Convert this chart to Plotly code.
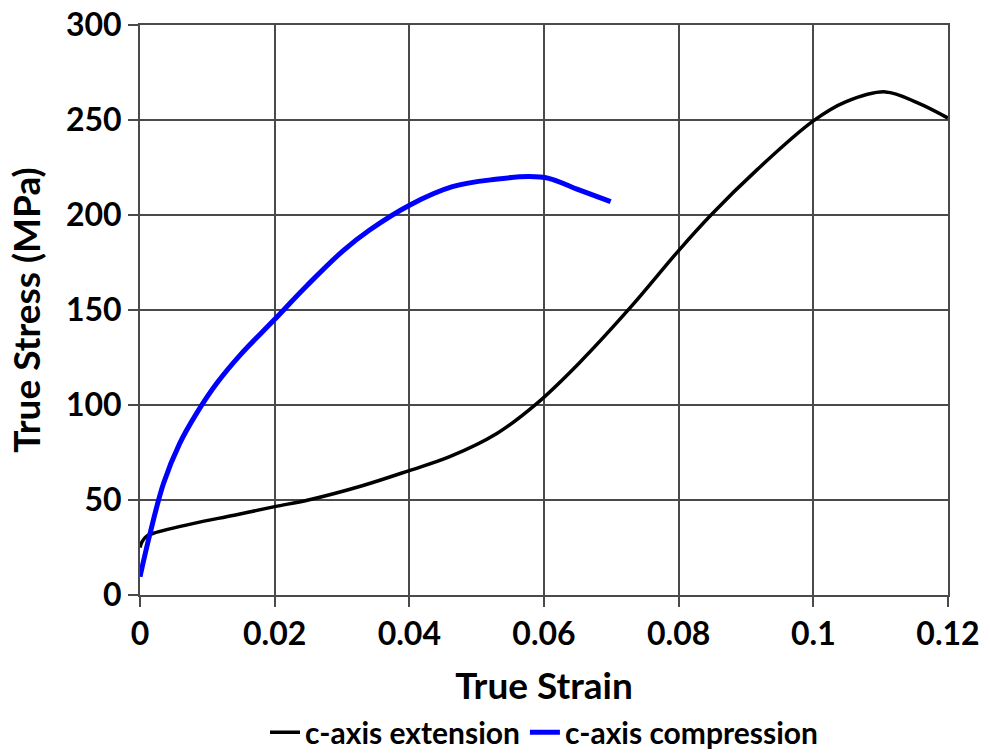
import plotly.graph_objects as go

# c-axis extension: true strain vs true stress (MPa)
ext_strain = [0.0, 0.0003, 0.001, 0.002, 0.008, 0.014, 0.02, 0.025, 0.033, 0.04,
              0.046, 0.053, 0.059, 0.0652, 0.073, 0.08, 0.0848, 0.0917,
              0.1, 0.1048, 0.1107, 0.1155, 0.12]
ext_stress = [25, 28, 31, 32.5, 37.7, 42, 46.5, 50, 57.5, 65.5,
              72.8, 85, 101, 122, 152, 181.3, 200, 224,
              249.5, 259.5, 264.8, 259, 251]

# c-axis compression: true strain vs true stress (MPa)
comp_strain = [0.0, 0.0015, 0.0035, 0.0059, 0.0084, 0.0114, 0.0148, 0.0199,
               0.0247, 0.0301, 0.0341, 0.0401, 0.0464, 0.0528, 0.0578, 0.0607,
               0.0652, 0.0699]
comp_stress = [9.6, 32.5, 58.8, 79.8, 95.6, 111.4, 126, 144.7,
               162.5, 181, 192.1, 205.3, 214.9, 218.8, 220.2, 219.3,
               213.2, 207]

x_ticks = [0, 0.02, 0.04, 0.06, 0.08, 0.1, 0.12]
x_tick_text = ["0", "0.02", "0.04", "0.06", "0.08", "0.1", "0.12"]
y_ticks = [0, 50, 100, 150, 200, 250, 300]

FONT = "Lato, 'Open Sans', sans-serif"
GRID = "#4a4a4a"

fig = go.Figure()
fig.add_trace(go.Scatter(
    x=ext_strain, y=ext_stress, mode="lines", name="c-axis extension",
    line=dict(color="black", width=3.5, shape="spline", smoothing=1.0),
))
fig.add_trace(go.Scatter(
    x=comp_strain, y=comp_stress, mode="lines", name="c-axis compression",
    line=dict(color="#0000ff", width=5, shape="spline", smoothing=1.0),
))

axis_common = dict(
    showgrid=True, gridcolor=GRID, gridwidth=2,
    showline=True, linecolor=GRID, linewidth=2, mirror=True,
    ticks="outside", ticklen=10, tickwidth=2, tickcolor=GRID,
    zeroline=False, automargin=False,
    tickfont=dict(family=FONT, size=32, color="black", weight="bold"),
)

fig.update_layout(
    width=990, height=753,
    margin=dict(l=140, r=42, t=25, b=158, autoexpand=False),
    paper_bgcolor="white", plot_bgcolor="white",
    font=dict(family=FONT, color="black"),
    xaxis=dict(
        range=[0, 0.12], tickvals=x_ticks, ticktext=x_tick_text,
        title=dict(text="True Strain", standoff=22,
                   font=dict(family=FONT, size=37, color="black", weight="bold")),
        **axis_common,
    ),
    yaxis=dict(
        range=[0, 300], tickvals=y_ticks,
        title=dict(text="True Stress (MPa)", standoff=14,
                   font=dict(family=FONT, size=37, color="black", weight="bold")),
        **axis_common,
    ),
    legend=dict(
        orientation="h", x=0.5, xanchor="center", y=-0.241, yanchor="middle",
        font=dict(family=FONT, size=30, color="black", weight="bold"),
        itemwidth=30, tracegroupgap=0,
    ),
    showlegend=True,
)

fig.write_html("out.html")
